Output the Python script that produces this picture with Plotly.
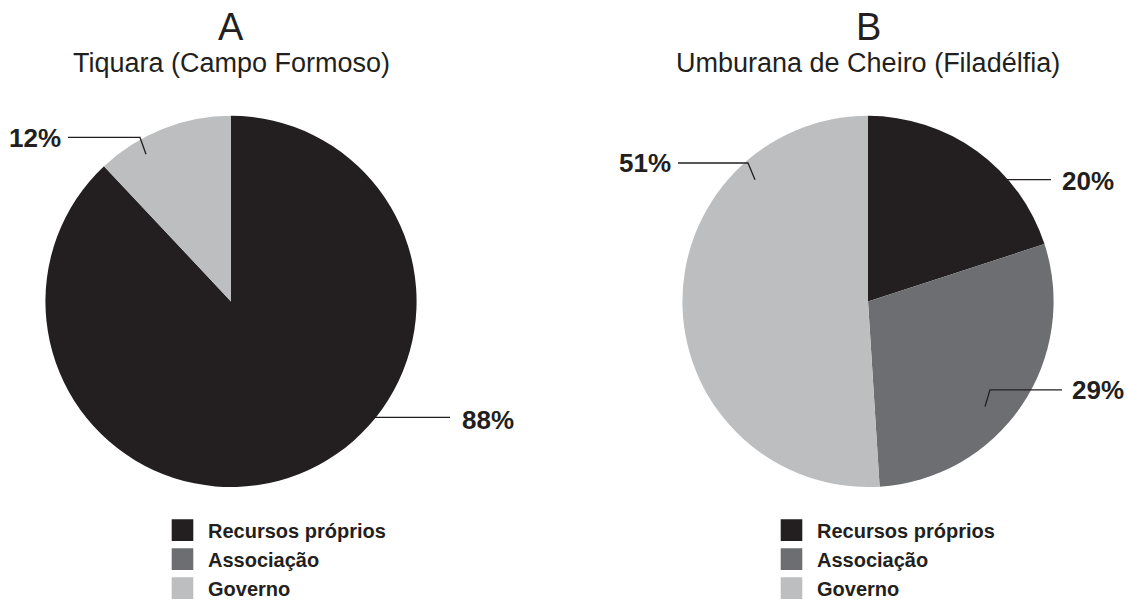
import plotly.graph_objects as go

# ---------------- data ----------------
categories = ["Recursos próprios", "Associação", "Governo"]
values_a = [88, 0, 12]
values_b = [20, 29, 51]
colors = ["#231f20", "#6d6e71", "#bcbec0"]
letter_a, subtitle_a = "A", "Tiquara (Campo Formoso)"
letter_b, subtitle_b = "B", "Umburana de Cheiro (Filadélfia)"

# ---------------- layout helpers (pixels of a 1127x608 canvas) ----------------
W, H = 1127, 608
FONT = "Liberation Sans, Arial, Helvetica, sans-serif"
INK = "#231f20"


def px(x):
    return x / W


def py(y):
    return 1 - y / H


R = 189
centers = [(231, 307), (868, 307)]

# label placement per slice: (text x, text y, anchor, leader polyline) ; None = no label
label_layout_a = [
    (460, 428, "left", [(370, 425), (450, 425)]),
    None,
    (63, 141, "right", [(68, 140), (140, 140), (146, 157)]),
]
label_layout_b = [
    (1060, 184, "left", [(1000, 183), (1051, 183)]),
    (1070, 397, "left", [(985, 414), (990, 397), (1062, 397)]),
    (673, 166, "right", [(755, 183), (748, 166), (678, 166)]),
]

fig = go.Figure()

for i, (vals, leg) in enumerate([(values_a, "legend"), (values_b, "legend2")]):
    cx, cy = centers[i]
    fig.add_trace(go.Pie(
        labels=categories,
        values=vals,
        marker=dict(colors=colors, line=dict(width=0)),
        sort=False,
        direction="clockwise",
        rotation=0,
        textinfo="none",
        hoverinfo="label+percent",
        domain=dict(x=[px(cx - R), px(cx + R)], y=[py(cy + R), py(cy - R)]),
        legend=leg,
        legendgroup=leg,
        showlegend=True,
    ))

annotations = []
shapes = []
for (letter, sub, (cx, cy)) in [(letter_a, subtitle_a, centers[0]), (letter_b, subtitle_b, centers[1])]:
    annotations.append(dict(text=letter, x=px(cx), y=py(28), xref="paper", yref="paper",
                            xanchor="center", yanchor="middle", showarrow=False,
                            font=dict(family=FONT, size=38, color=INK)))
    annotations.append(dict(text=sub, x=px(cx), y=py(64), xref="paper", yref="paper",
                            xanchor="center", yanchor="middle", showarrow=False,
                            font=dict(family=FONT, size=27, color=INK)))

for vals, lay in [(values_a, label_layout_a), (values_b, label_layout_b)]:
    total = sum(vals)
    for v, l in zip(vals, lay):
        if l is None or v == 0:
            continue
        tx, ty, anc, pts = l
        annotations.append(dict(text=f"<b>{round(100 * v / total)}%</b>", x=px(tx), y=py(ty),
                                xref="paper", yref="paper", xanchor=anc, yanchor="middle",
                                showarrow=False, font=dict(family=FONT, size=26, color=INK)))
        path = "M " + " L ".join(f"{px(x):.5f},{py(y):.5f}" for x, y in pts)
        shapes.append(dict(type="path", path=path, xref="paper", yref="paper",
                           line=dict(color=INK, width=1.3)))

legend_style = dict(
    font=dict(family=FONT, size=20, color=INK, weight="bold"),
    xanchor="left", yanchor="top", bgcolor="rgba(0,0,0,0)",
    traceorder="normal", orientation="v", itemwidth=41,
)

fig.update_layout(
    width=W, height=H,
    margin=dict(l=0, r=0, t=0, b=0),
    paper_bgcolor="white", plot_bgcolor="white",
    annotations=annotations,
    shapes=shapes,
    legend=dict(x=px(157), y=py(520), **legend_style),
    legend2=dict(x=px(766), y=py(520), **legend_style),
)

post = (
    "document.documentElement.style.margin='0px';"
    "document.body.style.margin='0px';"
    "document.documentElement.style.overflow='hidden';"
    "document.body.style.overflow='hidden';"
    "var gd=document.getElementById('{plot_id}');"
    "gd.style.position='fixed';gd.style.left='0px';gd.style.top='0px';"
    # enlarge the legend swatches to the size used in the original figure
    "gd.querySelectorAll('path.legendpie').forEach(function(p){"
    "var t=p.getAttribute('transform')||'';p.setAttribute('transform',t+' scale(1.8)');});"
)
fig.write_html("out.html", post_script=post, config={"displayModeBar": False})
